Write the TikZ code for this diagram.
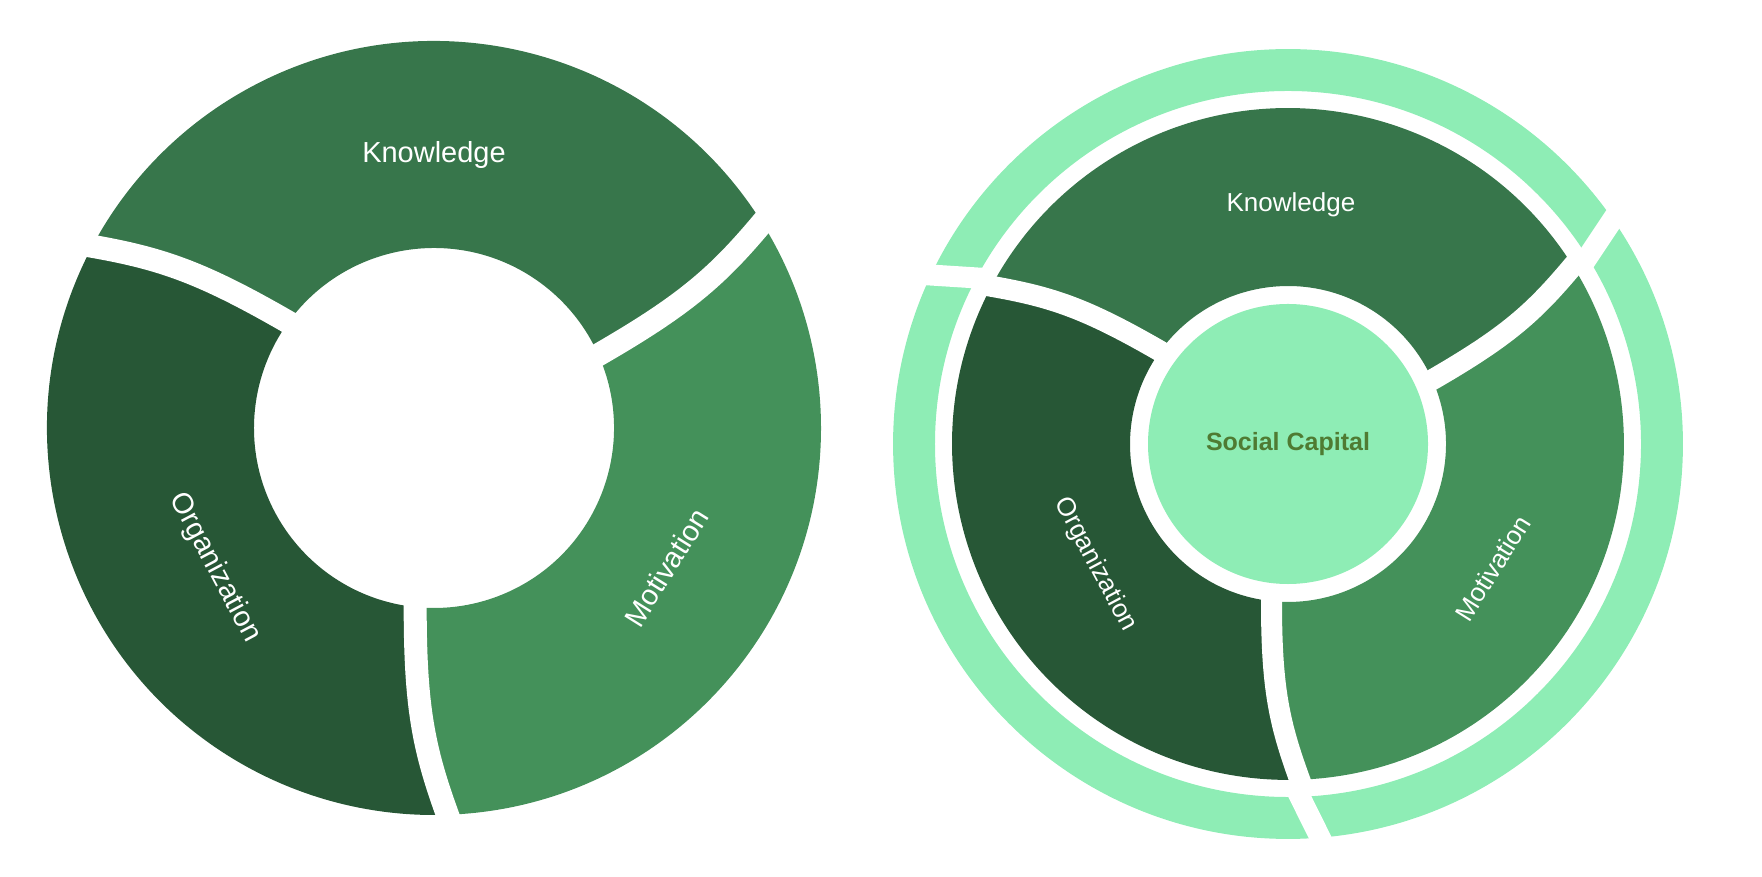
\documentclass[tikz,border=0pt]{standalone}
\usepackage{fontspec}
\setmainfont{Liberation Sans}
\usepackage{xcolor}
\usepackage{tikz}
\definecolor{knowgreen}{HTML}{37764B}
\definecolor{orggreen}{HTML}{275736}
\definecolor{motivgreen}{HTML}{44915A}
\definecolor{mintgreen}{HTML}{8EEDB5}
\definecolor{capitalgreen}{HTML}{4F7B32}
\tikzstyle{gapline} = [
    draw=white,
    line width=23pt
    ]
\tikzstyle{seglabel} = [
    text=white,
    inner sep=0pt,
    font=\fontsize{29}{34}\selectfont
    ]

\begin{document}
\begin{tikzpicture}[x=1pt,y=1pt]
        \useasboundingbox (0,0) rectangle (1762,876);

        % Left wheel
        \begin{scope}[shift={(434,448)}]
        \def\rin{180}
        \def\rout{387}
        \foreach \p/\col in {120/knowgreen, 240/orggreen, 0/motivgreen}
            \fill[\col] ({\p-96}:\rin) .. controls +({\p-90}:100) and +({\p+110}:70) .. ({\p-88}:\rout)
                arc[start angle=\p-88, end angle=\p+32, radius=\rout]
                .. controls +({\p+230}:70) and +({\p+30}:100) .. ({\p+24}:\rin)
                arc[start angle=\p+24, end angle=\p-96, radius=\rin] -- cycle;

        % Gaps
        \foreach \p in {0,120,240}
            \draw[gapline] ({\p-96}:\rin) ++({\p+90}:25) -- ({\p-96}:\rin)
                .. controls +({\p-90}:100) and +({\p+110}:70) .. ({\p-88}:\rout) -- ++({\p-70}:15);

        \node (know) [seglabel] at (90:273) {Knowledge};
        \node (org) [seglabel, rotate=-62] at (212.5:260) {Organization};
        \node (motiv) [seglabel, rotate=58] at (-31:271) {Motivation};
        \end{scope}

        % Right wheel
        \begin{scope}[shift={(1288,432)}, scale=0.868]
        \def\rin{182}
        \def\rout{387}
        \fill[mintgreen, even odd rule] (0,0) circle[radius=455] (0,0) circle[radius=406.7];
        \foreach \p/\col in {120/knowgreen, 240/orggreen, 0/motivgreen}
            \fill[\col] ({\p-96}:\rin) .. controls +({\p-90}:100) and +({\p+110}:70) .. ({\p-88}:\rout)
                arc[start angle=\p-88, end angle=\p+32, radius=\rout]
                .. controls +({\p+230}:70) and +({\p+30}:100) .. ({\p+24}:\rin)
                arc[start angle=\p+24, end angle=\p-96, radius=\rin] -- cycle;

        % Gaps
        \foreach \p in {0,120,240} {
            \draw[gapline, line width=21pt] ({\p-96}:\rin) ++({\p+90}:25) -- ({\p-96}:\rin)
                .. controls +({\p-90}:100) and +({\p+110}:70) .. ({\p-88}:\rout) -- ++({\p-70}:15);
            \draw[gapline, line width=21pt] ({\p-88.5}:400) -- ({\p-84.7}:468);
        }

        \fill[mintgreen] (0,0) circle[radius=161.3];
        \node (capital) [text=capitalgreen, font=\fontsize{25}{30}\selectfont\bfseries] at (0,0) {Social Capital};

        \node (know2) [seglabel, font=\fontsize{26}{31}\selectfont] at (89.3:276) {Knowledge};
        \node (org2) [seglabel, font=\fontsize{26}{31}\selectfont, rotate=-62] at (212:262) {Organization};
        \node (motiv2) [seglabel, font=\fontsize{26}{31}\selectfont, rotate=58] at (-31.2:276) {Motivation};
        \end{scope}

    \end{tikzpicture}
\end{document}
